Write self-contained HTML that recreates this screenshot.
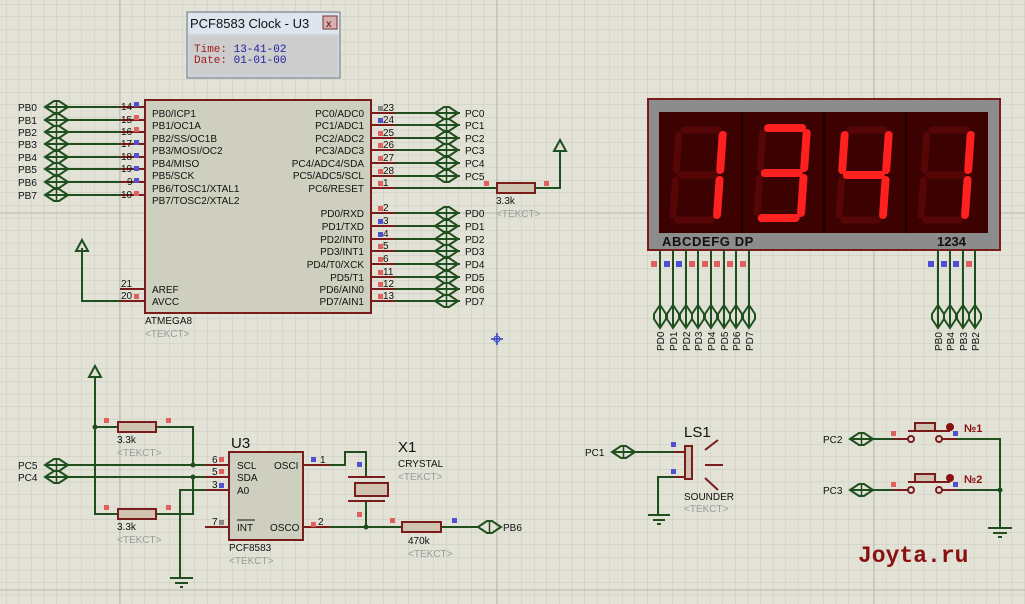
<!DOCTYPE html>
<html><head><meta charset="utf-8"><style>
body{margin:0;width:1025px;height:604px;overflow:hidden;background:#e2e2d6}
svg{display:block}
text{font-family:"Liberation Sans",sans-serif;font-size:10px;fill:#111}
.t{fill:#9a9a9a}
.w{stroke:#1f4f1f;stroke-width:2;fill:none}
.p{stroke:#7a1c1c;stroke-width:2;fill:none}
.on{stroke:#ff2020;stroke-width:8;stroke-linecap:round}
.off{stroke:#560606;stroke-width:7;stroke-linecap:round}
</style></head><body>
<svg width="1025" height="604" xmlns="http://www.w3.org/2000/svg">
<defs>
<pattern id="g" width="12.57" height="12.57" patternUnits="userSpaceOnUse" x="6" y="4">
<path d="M0 0H12.57M0 0V12.57" stroke="#c8c8bc" stroke-width="1" fill="none"/></pattern>
<g id="port"><polygon points="0,0 9,-6 14,-6 23,0 14,6 9,6" fill="none" stroke="#1f4f1f" stroke-width="2"/><line x1="11.5" y1="-6" x2="11.5" y2="6" stroke="#1f4f1f" stroke-width="1.5"/></g>
<g id="vport"><polygon points="0,0 -6,9 -6,14 0,23 6,14 6,9" fill="none" stroke="#1f4f1f" stroke-width="2"/></g>
<g id="dig">
<line class="off" x1="5" y1="0" x2="39" y2="0"/>
<line class="off" x1="44" y1="5" x2="44" y2="40"/>
<line class="off" x1="44" y1="50" x2="44" y2="85"/>
<line class="off" x1="5" y1="90" x2="39" y2="90"/>
<line class="off" x1="0" y1="50" x2="0" y2="85"/>
<line class="off" x1="0" y1="5" x2="0" y2="40"/>
<line class="off" x1="5" y1="45" x2="39" y2="45"/>
</g>
</defs>
<rect width="1025" height="604" fill="url(#g)"/>
<line x1="120" y1="0" x2="120" y2="604" stroke="#b8b8ac"/>
<line x1="497" y1="0" x2="497" y2="604" stroke="#b8b8ac"/>
<line x1="874" y1="0" x2="874" y2="604" stroke="#b8b8ac"/>
<line x1="0" y1="213" x2="1025" y2="213" stroke="#b8b8ac"/>
<line x1="0" y1="590" x2="1025" y2="590" stroke="#b8b8ac"/>

<rect x="187" y="12" width="153" height="66" fill="#d0d4d8" stroke="#6a7a88"/>
<rect x="188" y="13" width="151" height="21" fill="#dde6ee"/>
<text x="190" y="28" style="font-size:13px">PCF8583 Clock - U3</text>
<rect x="323" y="16" width="14" height="13" fill="#d8b0b0" stroke="#7a3030"/>
<text x="326" y="27" style="font-size:10px;fill:#7a3030;font-weight:bold">x</text>
<rect x="190" y="36" width="147" height="39" fill="#cdcdcd"/>
<text x="194" y="52" style="font-family:'Liberation Mono',monospace;font-size:11px;fill:#a02020">Time: <tspan style="fill:#2020a0">13-41-02</tspan></text>
<text x="194" y="63" style="font-family:'Liberation Mono',monospace;font-size:11px;fill:#a02020">Date: <tspan style="fill:#2020a0">01-01-00</tspan></text>

<rect x="145" y="100" width="226" height="213" fill="#cfcfbf" stroke="#7a1c1c" stroke-width="2"/>
<g class="p">
<path d="M120 107H145M120 120H145M120 132H145M120 144H145M120 157H145M120 169H145M120 182H145M120 195H145M120 289H145M120 301H145"/>
<path d="M371 113H395M371 125H395M371 138H395M371 150H395M371 163H395M371 176H395M371 188H395M371 213H395M371 226H395M371 239H395M371 251H395M371 264H395M371 277H395M371 289H395M371 301H395"/>
</g>
<g class="w">
<path d="M45 107H120M45 120H120M45 132H120M45 144H120M45 157H120M45 169H120M45 182H120M45 195H120"/>
<path d="M120 301H82V248"/>
<path d="M395 113H460M395 125H460M395 138H460M395 150H460M395 163H460M395 176H460M395 213H460M395 226H460M395 239H460M395 251H460M395 264H460M395 277H460M395 289H460M395 301H460"/>
<path d="M395 188H497M535 188H560V150"/>
</g>
<polygon points="82,240 76,251 88,251" fill="none" stroke="#1f4f1f" stroke-width="2"/>
<polygon points="560,140 554,151 566,151" fill="none" stroke="#1f4f1f" stroke-width="2"/>
<rect x="497" y="183" width="38" height="10" fill="#d0c4b0" stroke="#7a1c1c" stroke-width="2"/>
<rect x="484" y="181" width="5" height="5" fill="#e06060"/><rect x="544" y="181" width="5" height="5" fill="#e06060"/>
<g>
<use href="#port" x="45" y="107"/><use href="#port" x="45" y="120"/><use href="#port" x="45" y="132"/><use href="#port" x="45" y="144"/><use href="#port" x="45" y="157"/><use href="#port" x="45" y="169"/><use href="#port" x="45" y="182"/><use href="#port" x="45" y="195"/>
<use href="#port" x="435" y="113"/><use href="#port" x="435" y="125"/><use href="#port" x="435" y="138"/><use href="#port" x="435" y="150"/><use href="#port" x="435" y="163"/><use href="#port" x="435" y="176"/>
<use href="#port" x="435" y="213"/><use href="#port" x="435" y="226"/><use href="#port" x="435" y="239"/><use href="#port" x="435" y="251"/><use href="#port" x="435" y="264"/><use href="#port" x="435" y="277"/><use href="#port" x="435" y="289"/><use href="#port" x="435" y="301"/>
</g>
<g>
<text x="18" y="111">PB0</text><text x="18" y="124">PB1</text><text x="18" y="136">PB2</text><text x="18" y="148">PB3</text><text x="18" y="161">PB4</text><text x="18" y="173">PB5</text><text x="18" y="186">PB6</text><text x="18" y="199">PB7</text>
<text x="121" y="110">14</text><text x="121" y="123">15</text><text x="121" y="135">16</text><text x="121" y="147">17</text><text x="121" y="160">18</text><text x="121" y="172">19</text><text x="127" y="185">9</text><text x="121" y="198">10</text>
<text x="121" y="287">21</text><text x="121" y="299">20</text>
<text x="152" y="117">PB0/ICP1</text><text x="152" y="129">PB1/OC1A</text><text x="152" y="142">PB2/SS/OC1B</text><text x="152" y="154">PB3/MOSI/OC2</text><text x="152" y="167">PB4/MISO</text><text x="152" y="179">PB5/SCK</text><text x="152" y="192">PB6/TOSC1/XTAL1</text><text x="152" y="204">PB7/TOSC2/XTAL2</text>
<text x="152" y="293">AREF</text><text x="152" y="305">AVCC</text>
<text x="145" y="324">ATMEGA8</text><text x="145" y="337" class="t">&lt;TEKCT&gt;</text>
<g text-anchor="end">
<text x="364" y="117">PC0/ADC0</text><text x="364" y="129">PC1/ADC1</text><text x="364" y="142">PC2/ADC2</text><text x="364" y="154">PC3/ADC3</text><text x="364" y="167">PC4/ADC4/SDA</text><text x="364" y="179">PC5/ADC5/SCL</text><text x="364" y="192">PC6/RESET</text>
<text x="364" y="217">PD0/RXD</text><text x="364" y="230">PD1/TXD</text><text x="364" y="243">PD2/INT0</text><text x="364" y="255">PD3/INT1</text><text x="364" y="268">PD4/T0/XCK</text><text x="364" y="281">PD5/T1</text><text x="364" y="293">PD6/AIN0</text><text x="364" y="305">PD7/AIN1</text>
</g>
<text x="383" y="111">23</text><text x="383" y="123">24</text><text x="383" y="136">25</text><text x="383" y="148">26</text><text x="383" y="161">27</text><text x="383" y="174">28</text><text x="383" y="186">1</text>
<text x="383" y="211">2</text><text x="383" y="224">3</text><text x="383" y="237">4</text><text x="383" y="249">5</text><text x="383" y="262">6</text><text x="383" y="275">11</text><text x="383" y="287">12</text><text x="383" y="299">13</text>
<text x="465" y="117">PC0</text><text x="465" y="129">PC1</text><text x="465" y="142">PC2</text><text x="465" y="154">PC3</text><text x="465" y="167">PC4</text><text x="465" y="180">PC5</text>
<text x="465" y="217">PD0</text><text x="465" y="230">PD1</text><text x="465" y="243">PD2</text><text x="465" y="255">PD3</text><text x="465" y="268">PD4</text><text x="465" y="281">PD5</text><text x="465" y="293">PD6</text><text x="465" y="305">PD7</text>
<text x="496" y="204">3.3k</text><text x="496" y="217" class="t">&lt;TEKCT&gt;</text>
</g>
<g fill="#5050d0"><rect x="134" y="102" width="5" height="5"/><rect x="134" y="140" width="5" height="5"/><rect x="134" y="153" width="5" height="5"/><rect x="134" y="166" width="5" height="5"/><rect x="134" y="178" width="5" height="5"/><rect x="378" y="118" width="5" height="5"/><rect x="378" y="219" width="5" height="5"/><rect x="378" y="232" width="5" height="5"/></g>
<g fill="#e06060"><rect x="134" y="115" width="5" height="5"/><rect x="134" y="127" width="5" height="5"/><rect x="134" y="191" width="5" height="5"/><rect x="134" y="294" width="5" height="5"/><rect x="378" y="131" width="5" height="5"/><rect x="378" y="143" width="5" height="5"/><rect x="378" y="156" width="5" height="5"/><rect x="378" y="169" width="5" height="5"/><rect x="378" y="181" width="5" height="5"/><rect x="378" y="206" width="5" height="5"/><rect x="378" y="244" width="5" height="5"/><rect x="378" y="257" width="5" height="5"/><rect x="378" y="270" width="5" height="5"/><rect x="378" y="282" width="5" height="5"/><rect x="378" y="294" width="5" height="5"/></g>
<rect x="378" y="106" width="5" height="5" fill="#888"/>
<path d="M497 333V345M491 339H503" stroke="#3040c0" stroke-width="1.5"/><circle cx="497" cy="339" r="3" fill="none" stroke="#3040c0"/>

<rect x="648" y="99" width="352" height="151" fill="#8c8c8c" stroke="#7a1c1c" stroke-width="2"/>
<rect x="659" y="112" width="329" height="121" fill="#3c0202"/>
<path d="M742 112V233M824 112V233M906 112V233" stroke="#1c0000" stroke-width="2"/>
<g transform="translate(679,130) skewX(-4)"><use href="#dig"/><line class="on" x1="44" y1="5" x2="44" y2="40"/><line class="on" x1="44" y1="50" x2="44" y2="85"/></g>
<g transform="translate(763,128) skewX(-4)"><use href="#dig"/><line class="on" x1="5" y1="0" x2="39" y2="0"/><line class="on" x1="44" y1="5" x2="44" y2="40"/><line class="on" x1="44" y1="50" x2="44" y2="85"/><line class="on" x1="5" y1="90" x2="39" y2="90"/><line class="on" x1="5" y1="45" x2="39" y2="45"/></g>
<g transform="translate(845,130) skewX(-4)"><use href="#dig"/><line class="on" x1="0" y1="5" x2="0" y2="40"/><line class="on" x1="5" y1="45" x2="39" y2="45"/><line class="on" x1="44" y1="5" x2="44" y2="40"/><line class="on" x1="44" y1="50" x2="44" y2="85"/></g>
<g transform="translate(927,130) skewX(-4)"><use href="#dig"/><line class="on" x1="44" y1="5" x2="44" y2="40"/><line class="on" x1="44" y1="50" x2="44" y2="85"/></g>
<text x="662" y="246" style="font-size:13px;font-weight:bold;letter-spacing:0.6px">ABCDEFG  DP</text>
<text x="937" y="246" style="font-size:13px;font-weight:bold">1234</text>
<g class="w"><path d="M660 250V328M673 250V328M686 250V328M698 250V328M711 250V328M724 250V328M736 250V328M749 250V328M938 250V328M950 250V328M963 250V328M975 250V328"/></g>
<g><use href="#vport" x="660" y="305"/><use href="#vport" x="673" y="305"/><use href="#vport" x="686" y="305"/><use href="#vport" x="698" y="305"/><use href="#vport" x="711" y="305"/><use href="#vport" x="724" y="305"/><use href="#vport" x="736" y="305"/><use href="#vport" x="749" y="305"/><use href="#vport" x="938" y="305"/><use href="#vport" x="950" y="305"/><use href="#vport" x="963" y="305"/><use href="#vport" x="975" y="305"/></g>
<g fill="#e06060"><rect x="651" y="261" width="6" height="6"/><rect x="689" y="261" width="6" height="6"/><rect x="702" y="261" width="6" height="6"/><rect x="714" y="261" width="6" height="6"/><rect x="727" y="261" width="6" height="6"/><rect x="740" y="261" width="6" height="6"/><rect x="966" y="261" width="6" height="6"/></g>
<g fill="#5050d0"><rect x="664" y="261" width="6" height="6"/><rect x="676" y="261" width="6" height="6"/><rect x="928" y="261" width="6" height="6"/><rect x="941" y="261" width="6" height="6"/><rect x="953" y="261" width="6" height="6"/></g>
<g style="font-size:9px">
<text transform="translate(664,351) rotate(-90)">PD0</text><text transform="translate(677,351) rotate(-90)">PD1</text><text transform="translate(690,351) rotate(-90)">PD2</text><text transform="translate(702,351) rotate(-90)">PD3</text><text transform="translate(715,351) rotate(-90)">PD4</text><text transform="translate(728,351) rotate(-90)">PD5</text><text transform="translate(740,351) rotate(-90)">PD6</text><text transform="translate(753,351) rotate(-90)">PD7</text>
<text transform="translate(942,351) rotate(-90)">PB0</text><text transform="translate(954,351) rotate(-90)">PB4</text><text transform="translate(967,351) rotate(-90)">PB3</text><text transform="translate(979,351) rotate(-90)">PB2</text>
</g>

<g class="w">
<path d="M95 378V514H118M95 427H118M157 427H193V465M157 514H193V477"/>
<path d="M45 465H205M45 477H205M180 578V490H205"/>
<path d="M170 578H193M175 583H188M180 587H183"/>
<path d="M330 465H345V452H366V477M366 501V527M330 527H402M441 527H478"/>
</g>
<polygon points="95,366 89,377 101,377" fill="none" stroke="#1f4f1f" stroke-width="2"/>
<g fill="#1f4f1f"><circle cx="95" cy="427" r="2.5"/><circle cx="193" cy="465" r="2.5"/><circle cx="193" cy="477" r="2.5"/><circle cx="366" cy="527" r="2.5"/></g>
<g fill="#d0c4b0" stroke="#7a1c1c" stroke-width="2"><rect x="118" y="422" width="38" height="10"/><rect x="118" y="509" width="38" height="10"/><rect x="402" y="522" width="39" height="10"/><rect x="355" y="483" width="33" height="13"/></g>
<path d="M348 477H385M348 501H385" stroke="#7a1c1c" stroke-width="2"/>
<rect x="229" y="452" width="74" height="88" fill="#cfcfbf" stroke="#7a1c1c" stroke-width="2"/>
<path d="M205 465H229M205 477H229M205 490H229M205 527H229M303 465H330M303 527H330" stroke="#7a1c1c" stroke-width="2"/>
<use href="#port" x="45" y="465"/><use href="#port" x="45" y="477"/><use href="#port" x="478" y="527"/>
<g fill="#e06060"><rect x="104" y="418" width="5" height="5"/><rect x="166" y="418" width="5" height="5"/><rect x="104" y="505" width="5" height="5"/><rect x="166" y="505" width="5" height="5"/><rect x="219" y="457" width="5" height="5"/><rect x="219" y="469" width="5" height="5"/><rect x="311" y="522" width="5" height="5"/><rect x="357" y="512" width="5" height="5"/><rect x="390" y="518" width="5" height="5"/></g>
<g fill="#5050d0"><rect x="219" y="483" width="5" height="5"/><rect x="311" y="457" width="5" height="5"/><rect x="357" y="462" width="5" height="5"/><rect x="452" y="518" width="5" height="5"/></g>
<rect x="219" y="520" width="5" height="5" fill="#888"/>
<text x="18" y="469">PC5</text><text x="18" y="481">PC4</text>
<text x="117" y="443">3.3k</text><text x="117" y="456" class="t">&lt;TEKCT&gt;</text>
<text x="117" y="530">3.3k</text><text x="117" y="543" class="t">&lt;TEKCT&gt;</text>
<text x="212" y="463">6</text><text x="212" y="475">5</text><text x="212" y="488">3</text><text x="212" y="525">7</text>
<text x="237" y="469">SCL</text><text x="237" y="481">SDA</text><text x="237" y="494">A0</text><text x="237" y="531">INT</text>
<path d="M237 520H255" stroke="#111"/>
<text x="274" y="469">OSCI</text><text x="270" y="531">OSCO</text>
<text x="320" y="463">1</text><text x="318" y="525">2</text>
<text x="231" y="448" style="font-size:15px">U3</text>
<text x="229" y="551">PCF8583</text><text x="229" y="564" class="t">&lt;TEKCT&gt;</text>
<text x="398" y="452" style="font-size:15px">X1</text>
<text x="398" y="467">CRYSTAL</text><text x="398" y="480" class="t">&lt;TEKCT&gt;</text>
<text x="408" y="544">470k</text><text x="408" y="557" class="t">&lt;TEKCT&gt;</text>
<text x="503" y="531">PB6</text>

<g class="w"><path d="M612 452H683M683 477H658V515M648 515H670M653 520H665M657 524H661"/></g>
<use href="#port" x="612" y="452"/>
<text x="585" y="456">PC1</text>
<path d="M674 452H684M674 477H684" stroke="#7a1c1c" stroke-width="2"/>
<rect x="685" y="446" width="7" height="33" fill="#d0c4b0" stroke="#7a1c1c" stroke-width="2"/>
<path d="M705 450L718 440M705 465H723M705 478L718 490" stroke="#7a1c1c" stroke-width="2"/>
<rect x="671" y="442" width="5" height="5" fill="#5050d0"/><rect x="671" y="469" width="5" height="5" fill="#5050d0"/>
<text x="684" y="437" style="font-size:15px">LS1</text>
<text x="684" y="500">SOUNDER</text><text x="684" y="512" class="t">&lt;TEKCT&gt;</text>

<g class="w"><path d="M850 439H893M850 490H893M957 439H1000V528M957 490H1000M988 528H1012M993 533H1007M998 537H1002"/></g>
<circle cx="1000" cy="490" r="2.5" fill="#1f4f1f"/>
<use href="#port" x="850" y="439"/><use href="#port" x="850" y="490"/>
<text x="823" y="443">PC2</text><text x="823" y="494">PC3</text>
<g stroke="#7a1c1c" stroke-width="2" fill="none">
<path d="M893 439H908M942 439H957M908 431H950M893 490H908M942 490H957M908 482H950"/>
<circle cx="911" cy="439" r="3" fill="#e2e2d6"/><circle cx="939" cy="439" r="3" fill="#e2e2d6"/>
<circle cx="911" cy="490" r="3" fill="#e2e2d6"/><circle cx="939" cy="490" r="3" fill="#e2e2d6"/>
<rect x="915" y="423" width="20" height="8" fill="#d0c4b0"/><rect x="915" y="474" width="20" height="8" fill="#d0c4b0"/>
</g>
<circle cx="950" cy="427" r="4" fill="#8a1010"/><circle cx="950" cy="478" r="4" fill="#8a1010"/>
<rect x="891" y="431" width="5" height="5" fill="#e06060"/><rect x="891" y="482" width="5" height="5" fill="#e06060"/>
<rect x="953" y="431" width="5" height="5" fill="#5050d0"/><rect x="953" y="482" width="5" height="5" fill="#5050d0"/>
<text x="964" y="432" style="font-size:11px;font-weight:bold;fill:#8a1010">№1</text>
<text x="964" y="483" style="font-size:11px;font-weight:bold;fill:#8a1010">№2</text>
<text x="858" y="562" style="font-family:'Liberation Mono',monospace;font-size:23px;font-weight:bold;fill:#8a1010">Joyta.ru</text>
</svg>
</body></html>
